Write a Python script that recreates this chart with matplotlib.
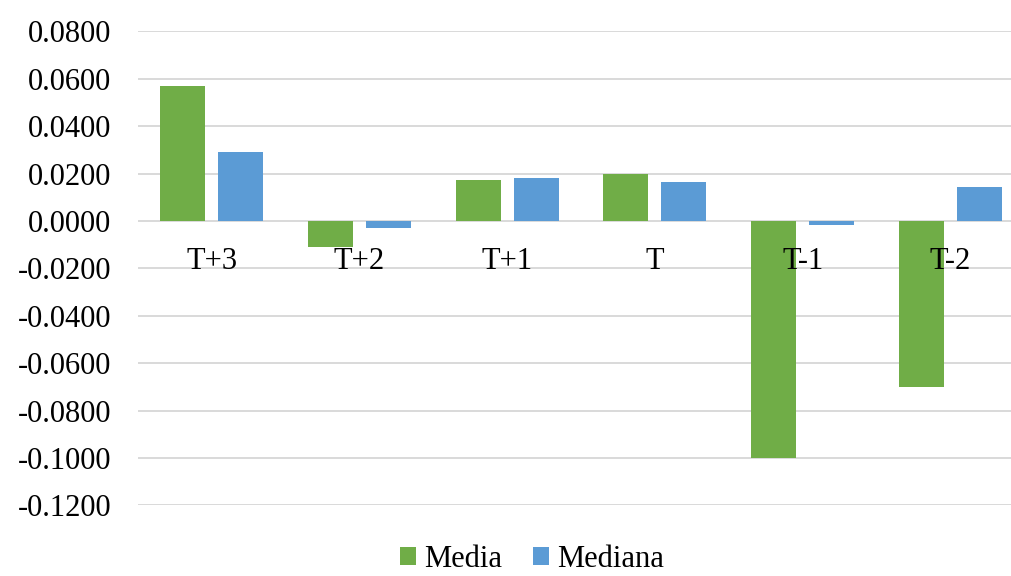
import numpy as np
import matplotlib
matplotlib.use('Agg')
import matplotlib.pyplot as plt
from matplotlib.transforms import offset_copy

periods = ['T+3', 'T+2', 'T+1', 'T', 'T-1', 'T-2']
media = [0.0570, -0.0108, 0.0172, 0.0197, -0.1000, -0.0700]
mediana = [0.0291, -0.0030, 0.0181, 0.0164, -0.0017, 0.0143]

GREEN = '#70AD47'
BLUE = '#5B9BD5'
GRID = '#D9D9D9'

plt.rcParams['font.family'] = ['Liberation Serif', 'DejaVu Serif']
plt.rcParams['font.size'] = 22

fig = plt.figure(figsize=(10.11, 5.76), dpi=100)
# right edge runs slightly past the canvas
ax = fig.add_axes([0.1362, 0.1226, 0.877, 0.8229])

x = np.arange(len(periods))
width = 0.305
offset = 0.196
ax.bar(x - offset, media, width, color=GREEN, label='Media', zorder=2)
ax.bar(x + offset, mediana, width, color=BLUE, label='Mediana', zorder=2)

ax.set_xlim(-0.5, len(periods) - 0.5)
ax.set_ylim(-0.12, 0.08)
ax.set_yticks(np.arange(-0.12, 0.0801, 0.02))
ax.yaxis.set_major_formatter(plt.FuncFormatter(lambda v, _: f'{v:.4f}'))
ax.grid(axis='y', color=GRID, linewidth=1.4, zorder=0)
ax.set_axisbelow(True)

# category labels sit just under the zero line, on top of the bars
ax.set_xticks([])
label_tr = offset_copy(ax.transData, fig=fig, x=0, y=-19, units='points')
for xi, name in zip(x, periods):
    ax.text(xi, 0, name, ha='center', va='top', transform=label_tr, zorder=5)

for side in ['top', 'right', 'left', 'bottom']:
    ax.spines[side].set_visible(False)
ax.tick_params(axis='y', length=0, pad=19)

fig.legend(loc='lower center', bbox_to_anchor=(0.526, -0.044), ncol=2, frameon=False,
           handlelength=0.55, handleheight=0.55, handletextpad=0.25, columnspacing=1.0)

fig.savefig('out.png', dpi=100)
